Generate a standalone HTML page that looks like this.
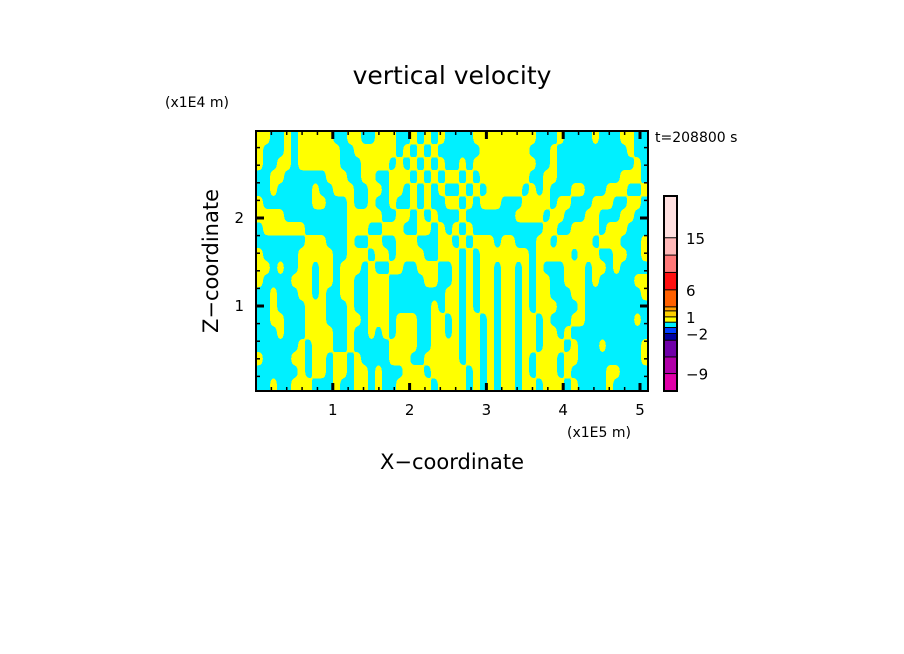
<!DOCTYPE html>
<html><head><meta charset="utf-8"><style>
body{margin:0;background:#fff;}
svg{display:block;font-family:"DejaVu Sans","Liberation Sans",sans-serif;}
</style></head><body>
<svg id="c" width="904" height="654" xmlns="http://www.w3.org/2000/svg">
<defs>
<clipPath id="pc"><rect x="256" y="131" width="392" height="260"/></clipPath>
<filter id="sm" x="0" y="0" width="100%" height="100%">
<feGaussianBlur stdDeviation="2 4"/>
<feComponentTransfer><feFuncA type="discrete" tableValues="0 1"/></feComponentTransfer>
</filter>
</defs>
<g id="field" clip-path="url(#pc)"></g>
<g id="axes"></g>
<g id="cbar"></g>
<text x="452" y="84" font-size="25" text-anchor="middle">vertical velocity</text>
<text x="165" y="107" font-size="14">(x1E4 m)</text>
<text x="655" y="142" font-size="14">t=208800 s</text>
<text x="567" y="437" font-size="14">(x1E5 m)</text>
<text x="452" y="469" font-size="21" text-anchor="middle">X−coordinate</text>
<text transform="translate(218,261) rotate(-90)" font-size="21" text-anchor="middle">Z−coordinate</text>
</svg>
<script>
const gridRows = [
"1100101111100110011100101010"+"0001111111110001000010001100",
"1000101111110011111101010100"+"0000111111100010000000000100",
"1001101111110001111010101010"+"0101111111110010000000000010",
"0011000000111001100111010101"+"1010111111100110000000001110",
"0010000010011100110110101010"+"0101011111010100011000111001",
"1000000011000100100100101001"+"1010111000111101100011100110",
"1111000000000111110011010100"+"0100000001111011000110001100",
"0111111000000111001110011010"+"1010000000000110011110111000",
"0000000111000100110011100011"+"0101110110001101111101110001",
"1000001111100111011011110011"+"1010111111101111101110011001",
"1101001101101110100110011100"+"1010110110101000111011010000",
"1000011101101100111000001100"+"1010110110101100111010000011",
"0010001101001100111000000001"+"1010110110101100011000000001",
"0010000111000100111000000101"+"1010110110101110001000000000",
"0011000111000110111011100110"+"1011010110110100011000000010",
"0001000111100100101011100110"+"1011010110110110100000000000",
"0000001011100100000111100111"+"1011010110110111010001000001",
"1000011011011010000111001111"+"1011010110101110110000000001",
"0000001011011011010001110111"+"1101010110101110100000110000",
"0010011100010011010011111011"+"1101010110110111010000100000"
];
const xTicks = [1,2,3,4,5];
const yTicks = [1,2];
const cbColors = ["#ffe0e0","#ffb8b8","#ff7878","#ff1010","#ff6000","#ffa000","#ffd000","#ffff00","#00f0ff","#0040ff","#0000a0","#7000a8","#b000a8","#e000a8"];
const cbWeights = [41.7,17.3,17.3,17.4,17,4,6,5.3,5.3,6,6.7,16.7,16.6,17.4];
const cbLabels = ["15","6","1","−2","−9"];
const cbLabelAt = [1,4,7,10,13];

const NS="http://www.w3.org/2000/svg";
const L=256,T=131,R=648,B=391;
const xs=v=>L+v*76.8, ys=v=>394-v*88;
function mk(tag,attrs,parent){const e=document.createElementNS(NS,tag);for(const k in attrs)e.setAttribute(k,attrs[k]);parent.appendChild(e);return e;}
const field=document.getElementById('field');
const nr=gridRows.length,nc=gridRows[0].length,cw=(R-L)/nc,ch=(B-T)/nr;
mk('rect',{x:L,y:T,width:R-L,height:B-T,fill:'#00f0ff'},field);
const yg=mk('g',{filter:'url(#sm)'},field);


for(let r=-1;r<=nr;r++){const rr=Math.min(Math.max(r,0),nr-1);let c=0;while(c<nc){if(gridRows[rr][c]==='1'){let s=c;while(c<nc&&gridRows[rr][c]==='1')c++;
let x0=L+s*cw,x1=L+c*cw;if(s===0)x0-=10;if(c===nc)x1+=10;
const e=mk('rect',{x:x0,y:T+r*ch,width:x1-x0,height:ch+0.3,fill:'#ffff00'},yg);

}else c++;}}
const ax=document.getElementById('axes');
mk('rect',{x:L,y:T,width:R-L,height:B-T,fill:'none',stroke:'#000','stroke-width':2},ax);
for(let v=0.2;v<5.1;v+=0.2){const x=xs(v),maj=Math.abs(v-Math.round(v))<0.01,len=maj?8:4;
mk('line',{x1:x,y1:B,x2:x,y2:B-len,stroke:'#000','stroke-width':maj?3:1.5},ax);
mk('line',{x1:x,y1:T,x2:x,y2:T+len,stroke:'#000','stroke-width':maj?3:1.5},ax);}
for(let v=0.2;v<2.96;v+=0.2){const y=ys(v),maj=Math.abs(v-Math.round(v))<0.01,len=maj?8:4;
mk('line',{x1:L,y1:y,x2:L+len,y2:y,stroke:'#000','stroke-width':maj?3:1.5},ax);
mk('line',{x1:R,y1:y,x2:R-len,y2:y,stroke:'#000','stroke-width':maj?3:1.5},ax);}
xTicks.forEach(v=>{const t=mk('text',{x:xs(v),y:415,'font-size':15,'text-anchor':'middle'},ax);t.textContent=v;

});
yTicks.forEach(v=>{const t=mk('text',{x:244,y:ys(v)+5,'font-size':15,'text-anchor':'end'},ax);t.textContent=v;

});
const cb=document.getElementById('cbar');
const cbT=196,cbB=391,cbX=664,cbW=13;
const tw=cbWeights.reduce((a,b)=>a+b,0);let acc=0;const bounds=[];
cbColors.forEach((col,i)=>{const y0=cbT+acc/tw*(cbB-cbT);acc+=cbWeights[i];const y1=cbT+acc/tw*(cbB-cbT);bounds.push([y0,y1]);
const e=mk('rect',{x:cbX,y:y0,width:cbW,height:y1-y0,fill:col},cb);


if(i>0)mk('line',{x1:cbX,y1:y0,x2:cbX+cbW,y2:y0,stroke:'#000','stroke-width':1},cb);});
mk('rect',{x:cbX,y:cbT,width:cbW,height:cbB-cbT,fill:'none',stroke:'#000','stroke-width':2},cb);
cbLabels.forEach((s,i)=>{const idx=cbLabelAt[i];const y=idx>=bounds.length?cbB:bounds[idx][0];
const t=mk('text',{x:686,y:y+6,'font-size':15},cb);t.textContent=s;

});
</script>
</body></html>
